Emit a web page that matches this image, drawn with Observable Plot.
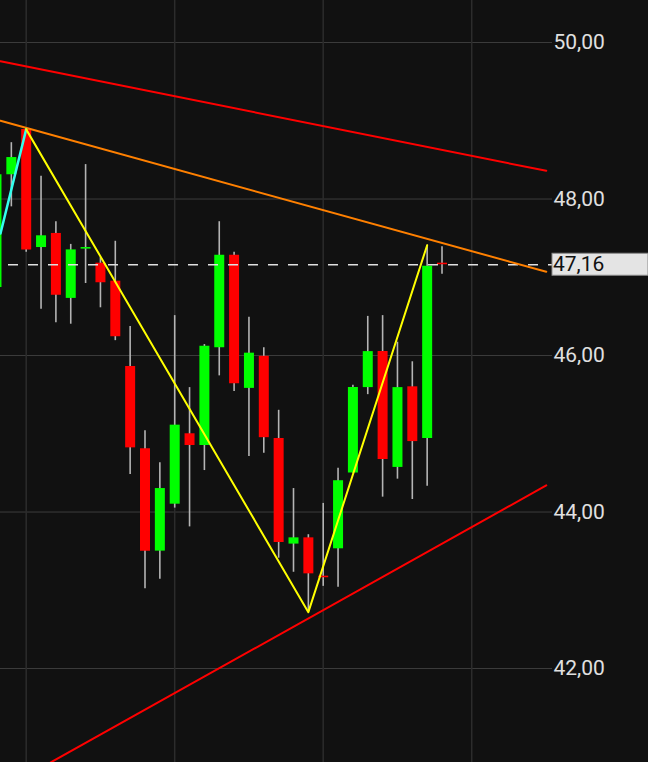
<!DOCTYPE html>
<html>
<head>
<meta charset="utf-8">
<script src="https://cdn.jsdelivr.net/npm/d3@7"></script>
<script src="https://cdn.jsdelivr.net/npm/@observablehq/plot@0.6"></script>
<style>
  html, body { margin: 0; padding: 0; background: #111111; }
  #chart svg { display: block; }
</style>
</head>
<body>
<div id="chart"></div>
<script>
// ---- Candle data (index = bar number) ----
const bars   = [0,1,2,3,4,5,6,7,8,9,10,11,12,13,14,15,16,17,18,19,20,21,22,23,24,25,26,27,28,29,30];
const opens  = [46.87,48.31,48.89,47.38,47.56,46.73,47.36,47.18,46.95,45.86,44.81,43.50,44.10,45.00,44.85,46.10,47.28,45.58,45.99,44.94,43.59,43.67,43.18,43.53,44.50,45.59,46.05,44.57,45.60,44.94,47.18];
const highs  = [48.31,48.72,48.89,48.29,47.71,47.42,48.44,47.25,47.46,46.37,45.04,44.63,46.51,45.59,46.14,47.71,47.32,46.49,46.10,45.30,44.30,43.71,44.11,44.56,45.62,46.50,46.51,46.17,45.92,47.41,47.39];
const lows   = [46.87,47.90,47.32,46.59,46.42,46.40,46.92,46.61,46.19,44.48,43.02,43.14,44.05,43.81,44.53,45.74,45.54,44.71,44.75,43.41,43.23,42.72,43.05,43.04,44.50,45.50,44.19,44.42,44.16,44.33,47.04];
const closes = [48.31,48.53,47.35,47.53,46.77,47.35,47.38,46.93,46.24,44.82,43.50,44.30,45.11,44.85,46.12,47.28,45.64,46.03,44.95,43.61,43.67,43.21,43.16,44.40,45.59,46.05,44.67,45.59,44.90,47.14,47.16];

// ---- Axis ticks / current price ----
const yTicks = [42, 44, 46, 48, 50];
const gridBars = [2, 12, 22, 32];
const lastPrice = 47.16;

// ---- Drawn lines (bar index, price) ----
const upperRedX = [0.27, 37.02], upperRedY = [49.76, 48.36];
const orangeX   = [0.27, 37.02], orangeY   = [49.00, 47.07];
const lowerRedX = [3.65, 37.02], lowerRedY = [40.80, 44.34];
const cyanX     = [0.27, 2],     cyanY     = [47.56, 48.89];
const zigX      = [2, 21, 29],   zigY      = [48.89, 42.72, 47.41];

const candles = bars.map((b, k) => ({
  i: b, open: opens[k], high: highs[k], low: lows[k], close: closes[k]
}));
const col = d => d.close >= d.open ? "#00ff00" : "#ff0000";
const fmt = v => v.toFixed(2).replace(".", ",");

const W = 648, H = 762, MR = 96;

const chart = Plot.plot({
  width: W,
  height: H,
  marginLeft: 0,
  marginRight: MR,
  marginTop: 0,
  marginBottom: 0,
  style: { background: "#111111", color: "#e0e0e0", fontFamily: "Roboto, sans-serif" },
  x: { domain: [0.27, 37.44], axis: null },
  y: { domain: [40.799, 50.537], axis: null },
  marks: [
    Plot.ruleY(yTicks, { stroke: "#3c3c3c", strokeWidth: 1 }),
    Plot.ruleX(gridBars, { stroke: "#2c2c2c", strokeWidth: 1.5 }),
    Plot.ruleX(candles, { x: "i", y1: "low", y2: "high", stroke: "#b4b4b4", strokeWidth: 1.6, clip: true }),
    Plot.ruleX(candles, { x: "i", y1: "open", y2: "close", stroke: col, strokeWidth: 10, clip: true }),
    Plot.ruleY([lastPrice], { stroke: "#e0e0e0", strokeWidth: 1.5, strokeDasharray: "10,10", strokeDashoffset: 12 }),
    Plot.line(upperRedX, { x: upperRedX, y: upperRedY, stroke: "#ff0000", strokeWidth: 2, clip: true }),
    Plot.line(orangeX, { x: orangeX, y: orangeY, stroke: "#ff8000", strokeWidth: 2, clip: true }),
    Plot.line(lowerRedX, { x: lowerRedX, y: lowerRedY, stroke: "#ff0000", strokeWidth: 2, clip: true }),
    Plot.line(cyanX, { x: cyanX, y: cyanY, stroke: "#33ffee", strokeWidth: 2.5, clip: true }),
    Plot.line(zigX, { x: zigX, y: zigY, stroke: "#ffff00", strokeWidth: 2, clip: true }),
    Plot.axisY(yTicks, {
      anchor: "right", tickSize: 0, tickPadding: 1,
      tickFormat: fmt, fontSize: 21, fill: "#e0e0e0"
    })
  ]
});

document.getElementById("chart").appendChild(chart);

// current price label box, positioned through the plot's y scale
const py = chart.scale("y").apply(lastPrice);
const g = d3.select(chart).append("g");
g.append("rect")
  .attr("x", W - MR).attr("y", py - 11)
  .attr("width", MR).attr("height", 22)
  .attr("fill", "#e4e4e4").attr("stroke", "#8a8a8a").attr("stroke-width", 1);
g.append("text")
  .attr("x", W - MR + 1).attr("y", py).attr("dy", "0.34em")
  .attr("text-anchor", "start")
  .attr("font-family", "Roboto, sans-serif").attr("font-size", 21)
  .attr("fill", "#111111")
  .text(fmt(lastPrice));
</script>
</body>
</html>
